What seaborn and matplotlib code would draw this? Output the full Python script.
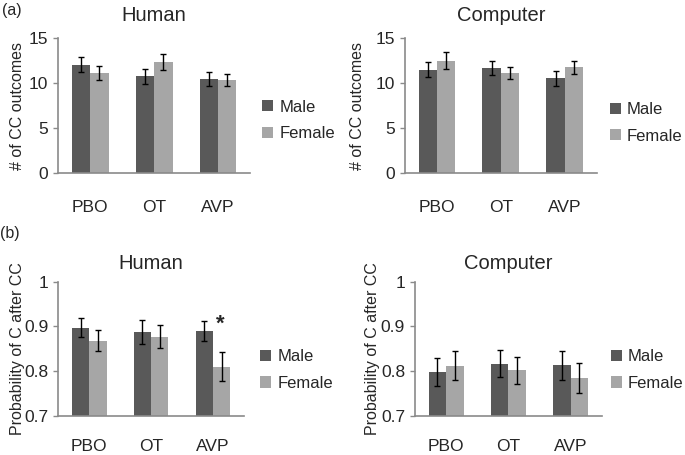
import pandas as pd
import numpy as np
import seaborn as sns
import matplotlib.pyplot as plt

sns.set_theme(style='white')
plt.rcParams['font.family'] = ['Liberation Sans', 'DejaVu Sans']

# data
drugs = ['PBO', 'OT', 'AVP']
sexes = ['Male', 'Female']

human_cc_male = [12.05, 10.75, 10.45]
human_cc_male_err = [0.85, 0.80, 0.80]
human_cc_female = [11.15, 12.35, 10.35]
human_cc_female_err = [0.75, 0.85, 0.70]

comp_cc_male = [11.5, 11.65, 10.55]
comp_cc_male_err = [0.83, 0.80, 0.83]
comp_cc_female = [12.5, 11.1, 11.75]
comp_cc_female_err = [0.92, 0.65, 0.70]

human_p_male = [0.897, 0.887, 0.890]
human_p_male_err = [0.021, 0.027, 0.023]
human_p_female = [0.868, 0.877, 0.810]
human_p_female_err = [0.024, 0.026, 0.032]

comp_p_male = [0.798, 0.816, 0.813]
comp_p_male_err = [0.032, 0.030, 0.032]
comp_p_female = [0.812, 0.802, 0.784]
comp_p_female_err = [0.032, 0.030, 0.033]

colors = ['#595959', '#a6a6a6']
axis_color = '#8a8a8a'


def panel(ax, male, female, male_err, female_err, title, ylabel, ylim, yticks,
          yticklabels, width, leg_xy, title_pad, ylabel_x, xpad):
    df = pd.DataFrame({'drug': drugs * 2,
                       'sex': ['Male'] * 3 + ['Female'] * 3,
                       'value': male + female})
    sns.barplot(data=df, x='drug', y='value', hue='sex', order=drugs,
                hue_order=sexes, palette=colors, width=width, errorbar=None,
                linewidth=0, saturation=1, ax=ax)
    # error bars on top of each bar
    for cont, err in zip(ax.containers, [male_err, female_err]):
        xs = [b.get_x() + b.get_width() / 2 for b in cont]
        ys = [b.get_height() + b.get_y() for b in cont]
        ax.errorbar(xs, ys, yerr=err, fmt='none', ecolor='black',
                    elinewidth=1.0, capsize=2, capthick=1.0)
    ax.set_xlim(-0.5, 2.5)
    ax.set_ylim(*ylim)
    ax.set_yticks(yticks)
    ax.set_yticklabels(yticklabels)
    ax.set_xlabel('')
    ax.set_ylabel(ylabel, fontsize=11.5)
    ax.yaxis.set_label_coords(ylabel_x, 0.5)
    ax.set_title(title, fontsize=14.5, pad=title_pad)
    sns.despine(ax=ax)
    for s in ['left', 'bottom']:
        ax.spines[s].set_color(axis_color)
        ax.spines[s].set_linewidth(1.2)
    ax.tick_params(axis='y', left=True, length=3.6, width=1.0,
                   color=axis_color, pad=3.5, labelsize=12.5)
    ax.tick_params(axis='x', bottom=False, pad=xpad, labelsize=12.5)
    sns.move_legend(ax, 'center left', bbox_to_anchor=leg_xy, frameon=False,
                    title=None, fontsize=12, handlelength=0.65,
                    handleheight=0.65, handletextpad=0.35, labelspacing=0.68,
                    borderpad=0, borderaxespad=0)


fig = plt.figure(figsize=(6.85, 4.55), dpi=100)
ax1 = fig.add_axes([0.0851, 0.6204, 0.2799, 0.2954])
ax2 = fig.add_axes([0.5912, 0.6204, 0.2800, 0.2954])
ax3 = fig.add_axes([0.0851, 0.0864, 0.2708, 0.2945])
ax4 = fig.add_axes([0.6058, 0.0864, 0.2728, 0.2945])

cc_ticks = [0, 5, 10, 15]
p_ticks = [0.7, 0.8, 0.9, 1.0]
p_labels = ['0.7', '0.8', '0.9', '1']

panel(ax1, human_cc_male, human_cc_female, human_cc_male_err, human_cc_female_err,
      'Human', '# of CC outcomes', (0, 15), cc_ticks, cc_ticks, 0.575,
      (1.065, 0.39), 12.5, -0.175, 14)
panel(ax2, comp_cc_male, comp_cc_female, comp_cc_male_err, comp_cc_female_err,
      'Computer', '# of CC outcomes', (0, 15), cc_ticks, cc_ticks, 0.575,
      (1.07, 0.37), 12.5, -0.21, 14)
panel(ax3, human_p_male, human_p_female, human_p_male_err, human_p_female_err,
      'Human', 'Probability of C after CC', (0.7, 1.0), p_ticks, p_labels, 0.56,
      (1.09, 0.34), 8.9, -0.18, 11)
panel(ax4, comp_p_male, comp_p_female, comp_p_male_err, comp_p_female_err,
      'Computer', 'Probability of C after CC', (0.7, 1.0), p_ticks, p_labels, 0.56,
      (1.05, 0.34), 8.9, -0.187, 11)

# significance mark
ax3.text(2.12, 0.905, '*', ha='center', va='center', fontsize=16,
         fontweight='bold')

fig.text(0.003, 0.978, '(a)', fontsize=11.5, va='center', ha='left')
fig.text(0.0, 0.486, '(b)', fontsize=11.5, va='center', ha='left')

plt.savefig('out.png', dpi=100)
